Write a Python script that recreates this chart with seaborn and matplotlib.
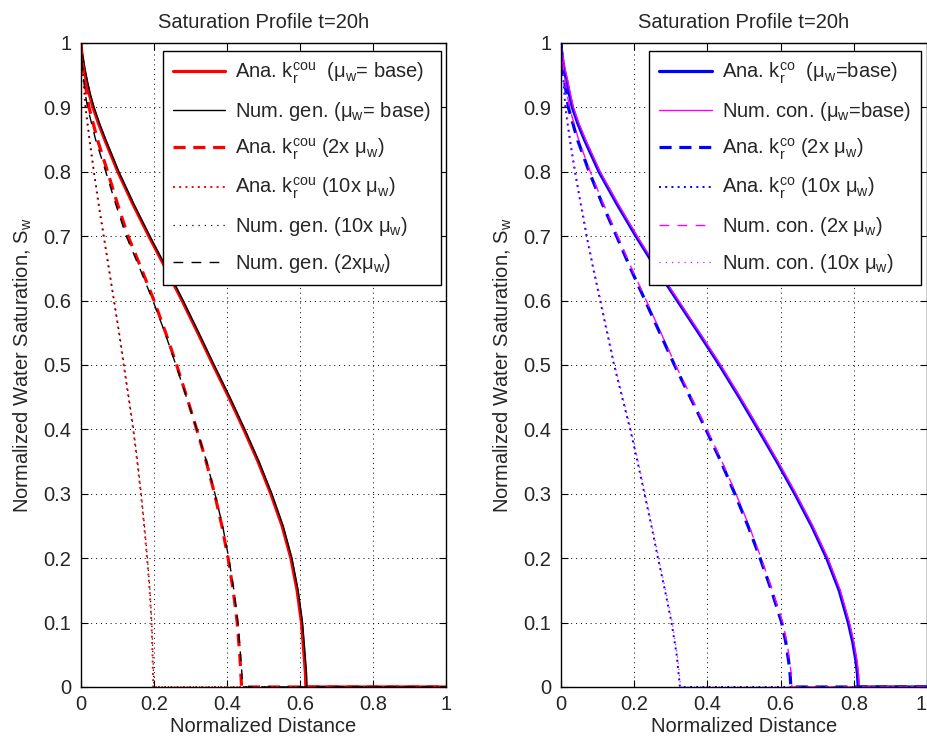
import numpy as np
import pandas as pd
import matplotlib
matplotlib.use("Agg")
import matplotlib.pyplot as plt
import seaborn as sns

# ---------------- data ----------------
# Left panel: generalized model (k_r^cou)
L_base_y = [1, 0.99, 0.98, 0.96, 0.94, 0.92, 0.9, 0.875, 0.85, 0.8, 0.75, 0.7, 0.65, 0.6,
            0.55, 0.5, 0.45, 0.4, 0.35, 0.3, 0.25, 0.2, 0.15, 0.1, 0.05, 0.02, 0, 0]
L_ana_base_x = [0, 0.001, 0.003, 0.008, 0.015, 0.023, 0.033, 0.048, 0.065, 0.101, 0.142, 0.186,
                0.232, 0.277, 0.32, 0.362, 0.405, 0.446, 0.485, 0.52, 0.551, 0.575, 0.592,
                0.604, 0.611, 0.615, 0.616, 1.0]
L_num_base_x = [0, 0.002, 0.005, 0.011, 0.018, 0.026, 0.036, 0.051, 0.068, 0.104, 0.145, 0.189,
                0.235, 0.28, 0.323, 0.365, 0.408, 0.449, 0.488, 0.523, 0.554, 0.578, 0.595,
                0.607, 0.614, 0.618, 0.619, 1.0]

L_2x_y = [1, 0.98, 0.96, 0.94, 0.92, 0.9, 0.85, 0.8, 0.75, 0.7, 0.65, 0.6, 0.55, 0.5, 0.45,
          0.4, 0.35, 0.3, 0.25, 0.2, 0.15, 0.1, 0.05, 0.02, 0, 0]
L_ana_2x_x = [0, 0.002, 0.006, 0.011, 0.016, 0.022, 0.045, 0.073, 0.1, 0.129, 0.165, 0.2, 0.232,
              0.262, 0.29, 0.317, 0.343, 0.366, 0.386, 0.403, 0.417, 0.428, 0.435, 0.438, 0.44, 1.0]
L_num_2x_x = [0, 0.001, 0.004, 0.008, 0.012, 0.018, 0.04, 0.068, 0.095, 0.124, 0.161, 0.197, 0.23,
              0.26, 0.289, 0.317, 0.344, 0.367, 0.388, 0.405, 0.419, 0.43, 0.437, 0.441, 0.443, 1.0]

L_10x_y = [1, 0.97, 0.94, 0.9, 0.85, 0.8, 0.75, 0.7, 0.65, 0.6, 0.55, 0.5, 0.45, 0.4, 0.35,
           0.3, 0.25, 0.2, 0.15, 0.1, 0.05, 0, 0]
L_ana_10x_x = [0, 0.003, 0.007, 0.012, 0.023, 0.035, 0.048, 0.062, 0.076, 0.09, 0.104, 0.117,
               0.13, 0.143, 0.154, 0.164, 0.173, 0.181, 0.188, 0.193, 0.196, 0.198, 1.0]
L_num_10x_x = [0, 0.004, 0.008, 0.013, 0.024, 0.036, 0.049, 0.063, 0.077, 0.091, 0.105, 0.118,
               0.131, 0.144, 0.155, 0.165, 0.174, 0.182, 0.189, 0.194, 0.197, 0.2, 1.0]

# Right panel: conventional model (k_r^co)
R_base_y = [1, 0.99, 0.98, 0.96, 0.94, 0.92, 0.9, 0.875, 0.85, 0.8, 0.75, 0.7, 0.65, 0.6,
            0.55, 0.5, 0.45, 0.4, 0.35, 0.3, 0.25, 0.2, 0.15, 0.1, 0.07, 0.04, 0.02, 0, 0]
R_ana_base_x = [0, 0.001, 0.003, 0.008, 0.016, 0.023, 0.031, 0.046, 0.064, 0.104, 0.153, 0.205,
                0.26, 0.318, 0.376, 0.433, 0.487, 0.539, 0.59, 0.639, 0.685, 0.726, 0.76,
                0.785, 0.797, 0.806, 0.81, 0.812, 1.0]
R_num_base_x = [0, 0.002, 0.005, 0.011, 0.019, 0.026, 0.034, 0.049, 0.067, 0.107, 0.156, 0.208,
                0.263, 0.321, 0.379, 0.436, 0.49, 0.542, 0.593, 0.642, 0.688, 0.729, 0.763,
                0.788, 0.8, 0.809, 0.813, 0.815, 1.0]

R_2x_y = [1, 0.98, 0.96, 0.94, 0.92, 0.9, 0.85, 0.8, 0.75, 0.7, 0.65, 0.6, 0.55, 0.5, 0.45,
          0.4, 0.35, 0.3, 0.25, 0.2, 0.15, 0.1, 0.07, 0.04, 0.02, 0, 0]
R_ana_2x_x = [0, 0.002, 0.005, 0.01, 0.015, 0.02, 0.045, 0.077, 0.113, 0.152, 0.19, 0.23, 0.27,
              0.31, 0.353, 0.396, 0.437, 0.475, 0.511, 0.544, 0.575, 0.603, 0.614, 0.622,
              0.626, 0.628, 1.0]
R_num_2x_x = [0, 0.003, 0.007, 0.012, 0.017, 0.023, 0.048, 0.08, 0.116, 0.155, 0.193, 0.233, 0.273,
              0.313, 0.356, 0.399, 0.44, 0.478, 0.514, 0.547, 0.578, 0.606, 0.617, 0.625,
              0.629, 0.631, 1.0]

R_10x_y = [1, 0.97, 0.94, 0.9, 0.85, 0.8, 0.75, 0.7, 0.65, 0.6, 0.55, 0.5, 0.45, 0.4, 0.35,
           0.3, 0.25, 0.2, 0.15, 0.1, 0.05, 0, 0]
R_ana_10x_x = [0, 0.003, 0.007, 0.012, 0.024, 0.038, 0.054, 0.07, 0.088, 0.107, 0.126, 0.145,
               0.167, 0.189, 0.209, 0.228, 0.247, 0.265, 0.284, 0.302, 0.316, 0.325, 1.0]
R_num_10x_x = [0, 0.004, 0.009, 0.014, 0.026, 0.04, 0.056, 0.072, 0.09, 0.109, 0.128, 0.147,
               0.169, 0.191, 0.211, 0.23, 0.249, 0.267, 0.286, 0.304, 0.318, 0.327, 1.0]

x_ticks = [0, 0.2, 0.4, 0.6, 0.8, 1.0]
x_tick_labels = ["0", "0.2", "0.4", "0.6", "0.8", "1"]
y_ticks = [0, 0.1, 0.2, 0.3, 0.4, 0.5, 0.6, 0.7, 0.8, 0.9, 1.0]
y_tick_labels = ["0", "0.1", "0.2", "0.3", "0.4", "0.5", "0.6", "0.7", "0.8", "0.9", "1"]

title_text = "Saturation Profile t=20h"
xlabel_text = "Normalized Distance"
ylabel_text = r"Normalized Water Saturation, S$_\mathregular{w}$"

MU = r"$\mathregular{\mu_w}$"
left_labels = [
    r"Ana. $\mathregular{k_r^{cou}}$  (" + MU + "= base)",
    "Num. gen. (" + MU + "= base)",
    r"Ana. $\mathregular{k_r^{cou}}$ (2x " + MU + ")",
    r"Ana. $\mathregular{k_r^{cou}}$ (10x " + MU + ")",
    "Num. gen. (10x " + MU + ")",
    "Num. gen. (2x" + MU + ")",
]
right_labels = [
    r"Ana. $\mathregular{k_r^{co}}$  (" + MU + "=base)",
    "Num. con. (" + MU + "=base)",
    r"Ana. $\mathregular{k_r^{co}}$ (2x " + MU + ")",
    r"Ana. $\mathregular{k_r^{co}}$ (10x " + MU + ")",
    "Num. con. (2x " + MU + ")",
    "Num. con. (10x " + MU + ")",
]

# ---------------- style ----------------
sns.set_style("white")
plt.rcParams["font.family"] = ["Liberation Sans", "DejaVu Sans"]
plt.rcParams["mathtext.fontset"] = "custom"
plt.rcParams["mathtext.rm"] = "Liberation Sans"
plt.rcParams["mathtext.it"] = "Liberation Sans:italic"
plt.rcParams["mathtext.bf"] = "Liberation Sans:bold"
plt.rcParams["font.size"] = 14.5

FS = 14.5

fig = plt.figure(figsize=(9.28, 7.37), dpi=100)
axL = fig.add_axes([81 / 928, 1 - 687 / 737, 365 / 928, 644 / 737])
axR = fig.add_axes([561 / 928, 1 - 687 / 737, 366 / 928, 644 / 737])

THICK = 2.3
THIN = 1.0

def draw(ax, xs, ys, color, lw, ls, label):
    df = pd.DataFrame({"x": xs, "y": ys})
    sns.lineplot(data=df, x="x", y="y", ax=ax, color=color, linewidth=lw,
                 linestyle=ls, label=label, sort=False, estimator=None,
                 legend=False)

# left panel
draw(axL, L_ana_base_x, L_base_y, "#ff0000", THICK, "-", left_labels[0])
draw(axL, L_num_base_x, L_base_y, "black", THIN, "-", left_labels[1])
draw(axL, L_ana_2x_x, L_2x_y, "#ff0000", THICK, (0, (3.8, 2.4)), left_labels[2])
draw(axL, L_ana_10x_x, L_10x_y, "#ff0000", 1.4, (0, (1, 2.2)), left_labels[3])
draw(axL, L_num_10x_x, L_10x_y, "black", 0.9, (0, (1, 4)), left_labels[4])
draw(axL, L_num_2x_x, L_2x_y, "black", THIN, (0, (7, 6)), left_labels[5])

# right panel
draw(axR, R_ana_base_x, R_base_y, "#0000ff", THICK, "-", right_labels[0])
draw(axR, R_num_base_x, R_base_y, "#ff00ff", THIN, "-", right_labels[1])
draw(axR, R_ana_2x_x, R_2x_y, "#0000ff", THICK, (0, (3.8, 2.4)), right_labels[2])
draw(axR, R_ana_10x_x, R_10x_y, "#0000ff", 1.4, (0, (1, 2.2)), right_labels[3])
draw(axR, R_num_2x_x, R_2x_y, "#ff00ff", THIN, (0, (7, 6)), right_labels[4])
draw(axR, R_num_10x_x, R_10x_y, "#ff00ff", 0.9, (0, (1, 4)), right_labels[5])

for ax, anchor in ((axL, (0.987, 0.988)), (axR, (0.984, 0.988))):
    ax.set_xlim(0, 1)
    ax.set_ylim(0, 1)
    ax.set_xticks(x_ticks)
    ax.set_xticklabels(x_tick_labels)
    ax.set_yticks(y_ticks)
    ax.set_yticklabels(y_tick_labels)
    ax.tick_params(axis="both", which="major", direction="in", length=5,
                   width=0.8, color="black", labelsize=FS, top=True,
                   right=True, bottom=True, left=True, pad=6)
    ax.tick_params(axis="y", pad=7)
    for sp in ax.spines.values():
        sp.set_visible(True)
        sp.set_color("black")
        sp.set_linewidth(1.0)
    ax.grid(True, color="black", linestyle=(0, (1, 4)), linewidth=0.7)
    ax.set_axisbelow(True)
    ax.set_title(title_text, fontsize=FS, pad=11)
    ax.set_xlabel(xlabel_text, fontsize=FS, labelpad=2)
    ax.set_ylabel(ylabel_text, fontsize=FS, labelpad=7)
    ax.set_facecolor("white")
    leg = ax.legend(loc="upper right", bbox_to_anchor=anchor, fontsize=FS,
                    frameon=True, fancybox=False, edgecolor="black",
                    framealpha=1, handlelength=2.6, handletextpad=0.5,
                    labelspacing=0.68, borderpad=0.5, borderaxespad=0)
    leg.get_frame().set_linewidth(1.0)

# keep the last x tick label of the right panel inside the figure
axR.get_xticklabels()[-1].set_horizontalalignment("right")

fig.savefig("out.png", dpi=100, facecolor="white")
